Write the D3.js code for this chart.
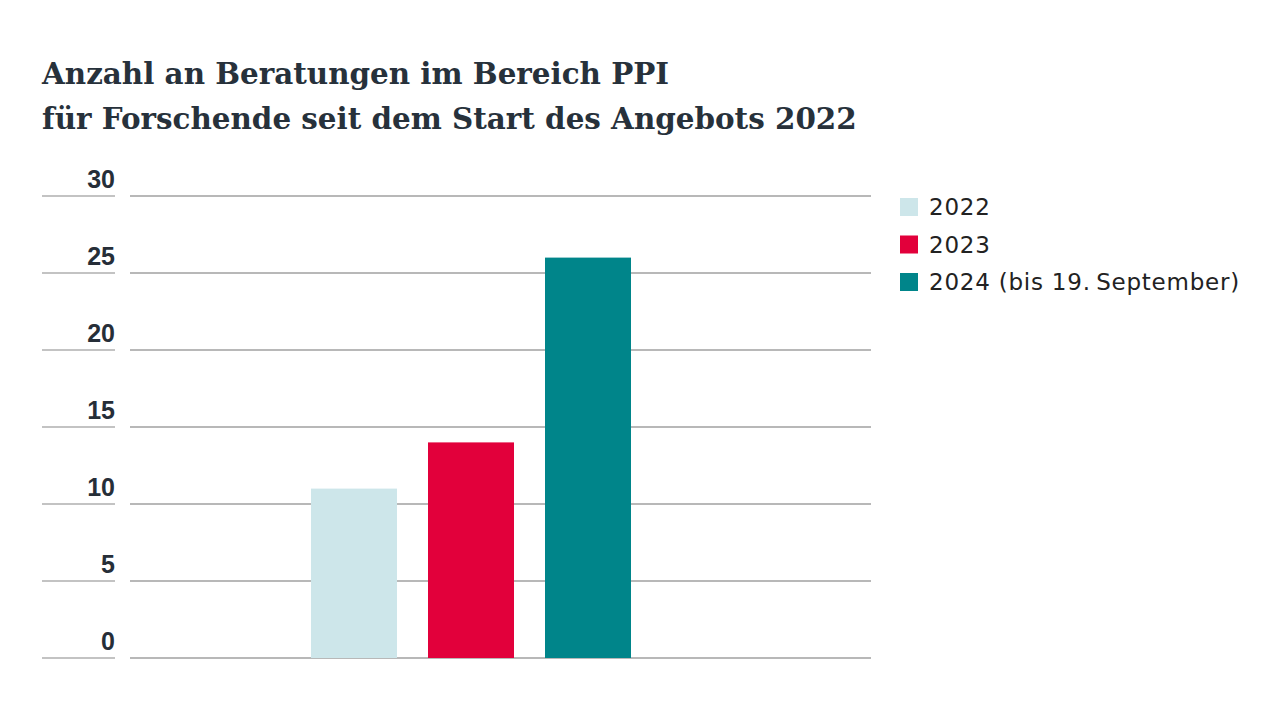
<!DOCTYPE html>
<html><head><meta charset="utf-8">
<script src="https://cdn.jsdelivr.net/npm/d3@7"></script>
<style>body{margin:0;background:#fff;}svg{display:block;}</style>
</head><body>
<svg id="c" width="1280" height="720"></svg>
<script>
const categories = ["2022", "2023", "2024"];
const values = [11, 14, 26];
const legendLabels = ["2022", "2023", "2024 (bis 19.\u2009September)"];
const colors = ["#cde6ea", "#e2003b", "#00858a"];
const yTicks = [0, 5, 10, 15, 20, 25, 30];
const titleLines = ["Anzahl an Beratungen im Bereich PPI", "für Forschende seit dem Start des Angebots 2022"];

const svg = d3.select("#c");
const y = d3.scaleLinear().domain([0, 30]).range([658, 196]);
const x = d3.scaleBand().domain(categories).range([311, 631]).paddingInner(0.265).paddingOuter(0);

// title
const tt = svg.append("g").selectAll("text").data(titleLines).join("text")
  .attr("x", 42).attr("y", (d, i) => 84 + i * 45)
  .attr("font-family", "'DejaVu Serif', serif").attr("font-weight", "bold")
  .attr("font-size", 30).attr("fill", "#27313b").text(d => d);
{
  const w = tt.nodes()[1].getComputedTextLength();
  const fs = 30 * 815 / w;
  tt.attr("font-size", fs);
}

// grid + ticks
const g = svg.append("g");
g.selectAll("line.grid").data(yTicks).join("line").attr("class", "grid")
  .attr("x1", 130).attr("x2", 871).attr("y1", d => y(d)).attr("y2", d => y(d))
  .attr("stroke", "#737373").attr("stroke-width", 1.2);
g.selectAll("line.tk").data(yTicks).join("line").attr("class", "tk")
  .attr("x1", 42).attr("x2", 115).attr("y1", d => y(d)).attr("y2", d => y(d))
  .attr("stroke", "#888").attr("stroke-width", 1.2);
g.selectAll("text").data(yTicks).join("text")
  .attr("x", 115).attr("y", d => y(d) - 8).attr("text-anchor", "end")
  .attr("font-family", "'Liberation Sans', Arial, sans-serif").attr("font-weight", "bold")
  .attr("font-size", 25).attr("fill", "#262e38").text(d => d);

// bars
svg.append("g").selectAll("rect").data(values).join("rect")
  .attr("x", (d, i) => x(categories[i])).attr("width", x.bandwidth())
  .attr("y", d => y(d)).attr("height", d => y(0) - y(d))
  .attr("fill", (d, i) => colors[i]);

// legend
const lg = svg.append("g").selectAll("g").data(legendLabels).join("g")
  .attr("transform", (d, i) => `translate(900, ${198 + i * 37.5})`);
lg.append("rect").attr("width", 18).attr("height", 18).attr("fill", (d, i) => colors[i]);
const lt = lg.append("text").attr("x", 29).attr("y", 17)
  .attr("font-family", "'DejaVu Sans', sans-serif")
  .attr("font-size", 22).attr("fill", "#222").text(d => d);
{
  const w = lt.nodes()[2].getComputedTextLength();
  const fs = Math.min(23, 22 * 311 / w);
  lt.attr("font-size", fs);
  const w2 = lt.nodes()[2].getComputedTextLength();
  lt.attr("letter-spacing", (311 - w2) / legendLabels[2].length);
}
</script>
</body></html>
